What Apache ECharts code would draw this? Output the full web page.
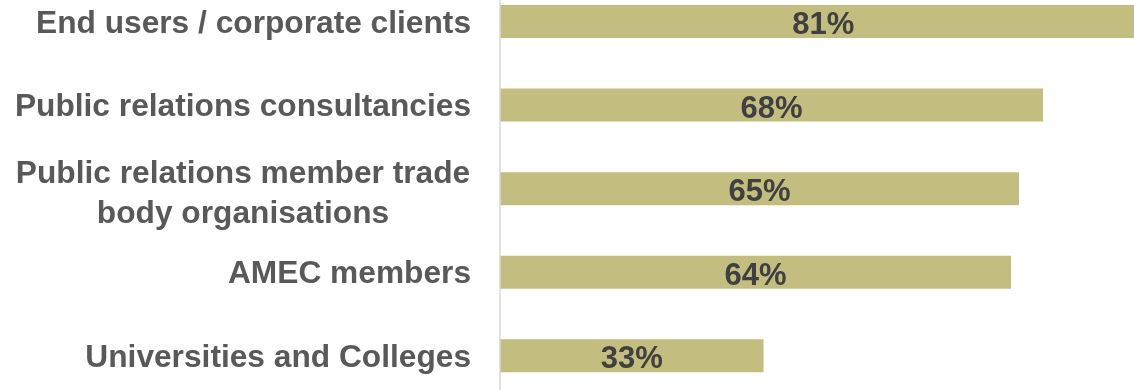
<!DOCTYPE html>
<html>
<head>
<meta charset="utf-8">
<script src="https://cdn.jsdelivr.net/npm/echarts@6/dist/echarts.min.js"></script>
<style>
  html, body { margin: 0; padding: 0; background: #ffffff; }
  #chart { width: 1134px; height: 390px; }
</style>
</head>
<body>
<div id="chart"></div>
<script>
// Share of respondents per group (percent)
const categories = [
  'End users / corporate clients',
  'Public relations consultancies',
  'Public relations member trade body organisations',
  'AMEC members',
  'Universities and Colleges'
];
const values = [81, 68, 65, 64, 33];

// Long labels are broken onto two centred lines
const labelLines = {
  'Public relations member trade body organisations': ['Public relations member trade', 'body organisations']
};

const FONT = 'Liberation Sans, Arial, sans-serif';
const LABEL_SIZE = 31.7;

const chart = echarts.init(document.getElementById('chart'), null, { renderer: 'canvas' });

chart.setOption({
  animation: false,
  grid: {
    left: 500, right: -164.5, top: -20.3, bottom: -7.6,
    containLabel: false,
    outerBoundsMode: 'none'
  },
  xAxis: {
    type: 'value',
    min: 0,
    max: 100,
    show: false
  },
  yAxis: {
    type: 'category',
    data: categories,
    inverse: true,
    axisLine: { show: true, lineStyle: { color: '#d9d9d9', width: 1.5 } },
    axisTick: { show: false },
    splitLine: { show: false },
    z: 3,
    axisLabel: {
      margin: 29,
      padding: [5, 0, 0, 0],
      fontFamily: FONT,
      fontWeight: 'bold',
      fontSize: LABEL_SIZE,
      color: '#595959',
      lineHeight: 40,
      formatter: function (name) {
        const lines = labelLines[name];
        if (lines) {
          return '{gap| }\n' + lines.map(function (l) { return '{c|' + l + '}'; }).join('\n');
        }
        return name;
      },
      rich: {
        gap: { fontSize: 1, lineHeight: 7 },
        c: {
          width: 456,
          align: 'center',
          fontFamily: FONT,
          fontWeight: 'bold',
          fontSize: LABEL_SIZE,
          color: '#595959',
          lineHeight: 40
        }
      }
    }
  },
  series: [{
    type: 'bar',
    data: values,
    barWidth: 33,
    clip: false,
    itemStyle: { color: '#c4bd80' },
    label: {
      show: true,
      position: 'inside',
      offset: [0, 4],
      formatter: '{c}%',
      fontFamily: FONT,
      fontWeight: 'bold',
      fontSize: 31,
      color: '#404040'
    }
  }]
});
</script>
</body>
</html>
